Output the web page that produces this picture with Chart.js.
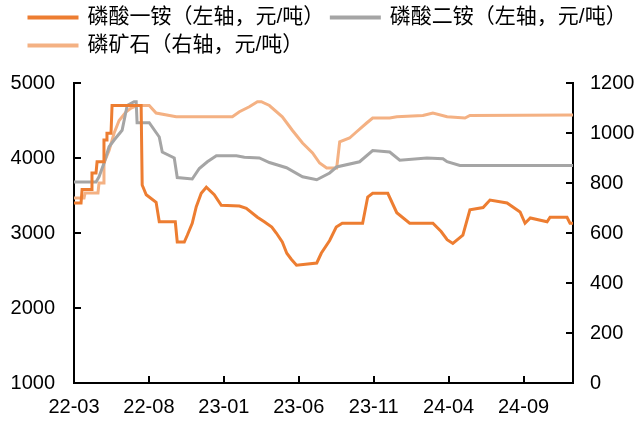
<!DOCTYPE html>
<html>
<head>
<meta charset="utf-8">
<title>磷酸一铵 / 磷酸二铵 / 磷矿石 价格</title>
<script src="https://cdn.jsdelivr.net/npm/chart.js@4.4.1/dist/chart.umd.min.js"></script>
<style>
    html, body { margin: 0; padding: 0; background: #fff; }
    #wrap { width: 640px; height: 421px; }
</style>
</head>
<body>
<div id="wrap"><canvas id="priceChart" width="640" height="421"></canvas></div>
<script>
// x values are months counted from 2022-03
const xTickMonths = [0, 5, 10, 15, 20, 25, 30];
const xTickLabels = ['22-03', '22-08', '23-01', '23-06', '23-11', '24-04', '24-09'];
const leftTicks = [1000, 2000, 3000, 4000, 5000];
const rightTicks = [0, 200, 400, 600, 800, 1000, 1200];

// 磷酸一铵 (left axis, 元/吨)
const mapMonths = [0, 0.47, 0.54, 1.14, 1.2, 1.47, 1.54, 1.94, 2.0, 2.14, 2.2, 2.47, 2.54, 4.48, 4.55, 4.82, 5.48, 5.69,
    6.76, 6.89, 7.36, 7.56, 7.89, 8.16, 8.49, 8.83, 9.36, 9.83, 11.04, 11.5, 12.24, 12.7, 13.2, 13.5, 13.9, 14.2, 14.5,
    14.85, 16.2, 16.5, 17.06, 17.5, 17.9, 19.26, 19.6, 19.93, 20.94, 21.54, 22.4, 23.95, 24.5, 24.9, 25.28, 25.95, 26.42,
    27.3, 27.76, 28.9, 29.77, 30.1, 30.45, 31.57, 31.77, 32.9, 33.1, 33.3];
const mapPrice = [3400, 3400, 3580, 3580, 3800, 3800, 3950, 3950, 4240, 4240, 4330, 4330, 4700, 4700, 3640, 3510, 3410, 3150,
    3150, 2880, 2880, 2970, 3130, 3350, 3530, 3610, 3510, 3370, 3360, 3330, 3210, 3150, 3080, 3000, 2880, 2730, 2650,
    2570, 2600, 2730, 2900, 3080, 3130, 3130, 3480, 3530, 3530, 3270, 3130, 3130, 3020, 2910, 2860, 2970, 3310,
    3340, 3440, 3400, 3280, 3130, 3200, 3150, 3210, 3210, 3130, 3130];

// 磷酸二铵 (left axis, 元/吨)
const damMonths = [0, 1.47, 1.67, 2.0, 2.34, 2.68, 3.21, 3.55, 4.01, 4.15, 4.21, 5.02, 5.69, 5.89, 6.69, 6.89, 7.89, 8.36,
    8.9, 9.5, 10.84, 11.37, 12.37, 13.04, 14.18, 15.25, 16.2, 17.06, 17.52, 19.06, 19.93, 21.07, 21.74, 23.55, 24.62,
    24.9, 25.75, 33.3];
const damPrice = [3680, 3680, 3750, 3930, 4150, 4240, 4370, 4700, 4750, 4750, 4470, 4470, 4280, 4080, 4000, 3740, 3720, 3860,
    3950, 4030, 4030, 4010, 4000, 3940, 3870, 3750, 3710, 3800, 3880, 3950, 4100, 4080, 3970, 4000, 3990,
    3950, 3900, 3900];

// 磷矿石 (right axis, 元/吨)
const rockMonths = [0, 0.67, 0.74, 1.6, 1.67, 1.94, 2.0, 2.34, 2.68, 3.01, 3.48, 3.81, 4.21, 5.02, 5.48, 6.82, 10.57, 11.04,
    11.7, 12.24, 12.5, 13.04, 13.9, 14.58, 15.25, 15.92, 16.39, 16.86, 17.53, 17.73, 18.39, 18.86, 19.53, 19.93, 21.07,
    21.54, 23.28, 23.95, 24.9, 26.09, 26.42, 33.3];
const rockPrice = [740, 740, 760, 760, 800, 800, 880, 930, 1000, 1050, 1085, 1100, 1110, 1110, 1080, 1065, 1065, 1085,
    1105, 1125, 1125, 1110, 1065, 1010, 960, 920, 880, 860, 860, 965, 980, 1005, 1040, 1060, 1060,
    1065, 1070, 1080, 1065, 1060, 1070, 1072];

const fontFamily = "'Liberation Sans', 'Noto Sans CJK SC', Arial, sans-serif";

function toPoints(xs, ys) {
    return xs.map((m, i) => ({ x: m, y: ys[i] }));
}

// ticks point inward on all three axes
const innerTicks = {
    id: 'innerTicks',
    afterDraw(chart) {
        const ctx = chart.ctx;
        const area = chart.chartArea;
        const len = 7;
        ctx.save();
        ctx.strokeStyle = '#000';
        ctx.lineWidth = 2;
        ctx.beginPath();
        const sx = chart.scales.x;
        sx.ticks.forEach(t => {
            const px = Math.round(sx.getPixelForValue(t.value));
            ctx.moveTo(px, area.bottom);
            ctx.lineTo(px, area.bottom - len);
        });
        const yl = chart.scales.yLeft;
        yl.ticks.forEach(t => {
            const py = Math.round(yl.getPixelForValue(t.value));
            ctx.moveTo(area.left, py);
            ctx.lineTo(area.left + len, py);
        });
        const yr = chart.scales.yRight;
        yr.ticks.forEach(t => {
            const py = Math.round(yr.getPixelForValue(t.value));
            ctx.moveTo(area.right, py);
            ctx.lineTo(area.right - len, py);
        });
        ctx.stroke();
        ctx.restore();
    }
};

// legend: fixed height and shifted to start near x=29
const legendShift = {
    id: 'legendShift',
    beforeInit(chart) {
        const fit = chart.legend.fit;
        chart.legend.fit = function () {
            fit.call(this);
            this.height = 83;
        };
    },
    afterLayout(chart) {
        chart.legend.left += 22;
        chart.legend.right += 22;
    }
};

const ctx = document.getElementById('priceChart').getContext('2d');
const priceChart = new Chart(ctx, {
    type: 'line',
    data: {
        datasets: [{
            label: '磷酸一铵（左轴，元/吨）',
            data: toPoints(mapMonths, mapPrice),
            borderColor: '#ED7D31',
            backgroundColor: '#ED7D31',
            borderWidth: 3,
            yAxisID: 'yLeft'
        }, {
            label: '磷酸二铵（左轴，元/吨）',
            data: toPoints(damMonths, damPrice),
            borderColor: '#A5A5A5',
            backgroundColor: '#A5A5A5',
            borderWidth: 3,
            yAxisID: 'yLeft'
        }, {
            label: '磷矿石（右轴，元/吨）',
            data: toPoints(rockMonths, rockPrice),
            borderColor: '#F4B183',
            backgroundColor: '#F4B183',
            borderWidth: 3,
            yAxisID: 'yRight'
        }]
    },
    options: {
        responsive: false,
        animation: false,
        layout: { padding: 0 },
        elements: {
            point: { radius: 0 },
            line: { tension: 0, borderJoinStyle: 'miter' }
        },
        plugins: {
            tooltip: { enabled: false },
            legend: {
                position: 'top',
                align: 'start',
                labels: {
                    boxWidth: 48,
                    boxHeight: 1,
                    padding: 7,
                    color: '#000',
                    font: { family: fontFamily, size: 21 }
                }
            }
        },
        scales: {
            x: {
                type: 'linear',
                position: 'bottom',
                min: 0,
                max: 33.3,
                grid: { display: false, drawTicks: false },
                border: { color: '#000', width: 2 },
                afterBuildTicks: s => { s.ticks = xTickMonths.map(v => ({ value: v })); },
                afterFit: s => { s.height = 38; },
                ticks: {
                    padding: 12,
                    color: '#000',
                    maxRotation: 0,
                    font: { family: fontFamily, size: 20 },
                    callback: v => xTickLabels[xTickMonths.indexOf(v)]
                }
            },
            yLeft: {
                type: 'linear',
                position: 'left',
                min: 1000,
                max: 5000,
                grid: { display: false, drawTicks: false },
                border: { color: '#000', width: 2 },
                afterBuildTicks: s => { s.ticks = leftTicks.map(v => ({ value: v })); },
                afterFit: s => { s.width = 74; },
                ticks: {
                    padding: 19,
                    color: '#000',
                    font: { family: fontFamily, size: 20 },
                    callback: v => String(v)
                }
            },
            yRight: {
                type: 'linear',
                position: 'right',
                min: 0,
                max: 1200,
                grid: { display: false, drawTicks: false },
                border: { color: '#000', width: 2 },
                afterBuildTicks: s => { s.ticks = rightTicks.map(v => ({ value: v })); },
                afterFit: s => { s.width = 67; },
                ticks: {
                    padding: 17,
                    color: '#000',
                    font: { family: fontFamily, size: 20 },
                    callback: v => String(v)
                }
            }
        }
    },
    plugins: [innerTicks, legendShift]
});
</script>
</body>
</html>
